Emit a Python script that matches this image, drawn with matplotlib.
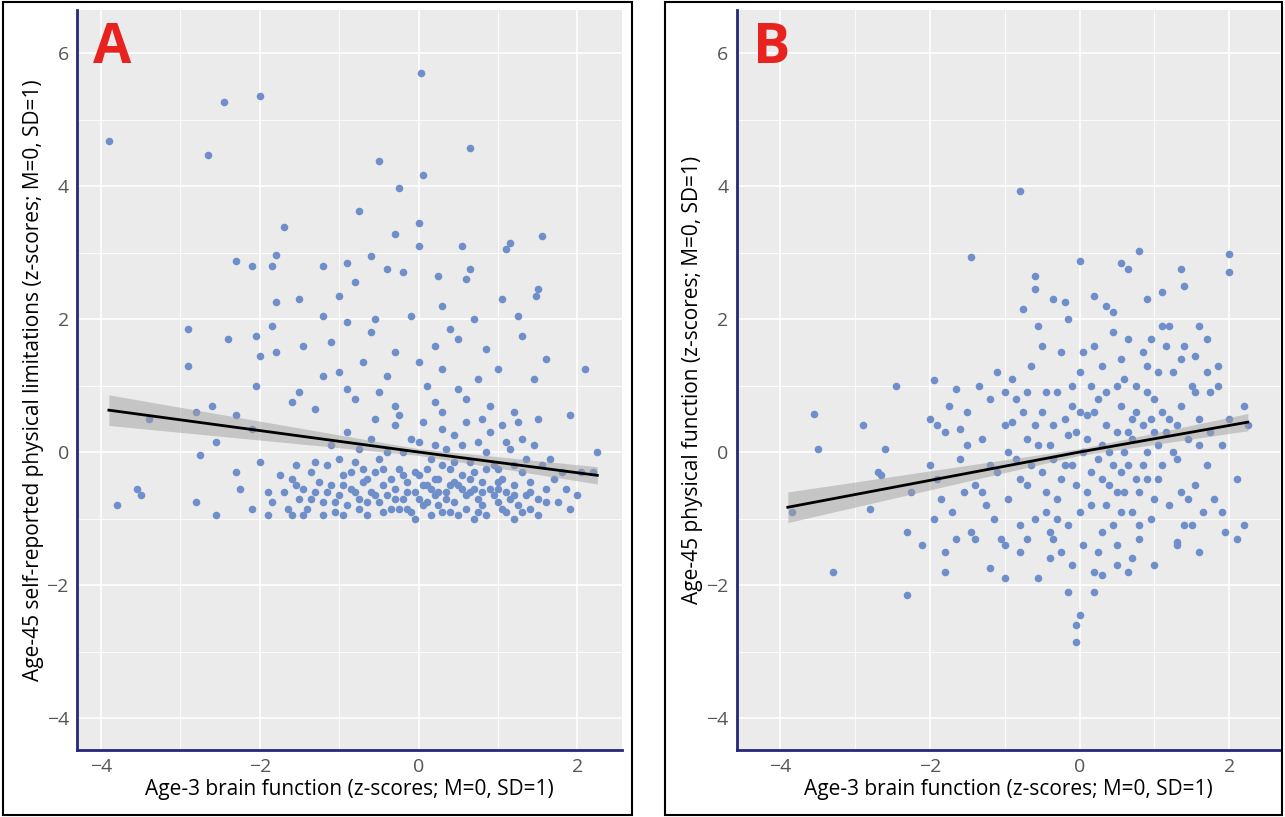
import matplotlib.pyplot as plt
from matplotlib.patches import Rectangle
import numpy as np

# panel A: age-3 brain function vs age-45 self-reported physical limitations
a_pts = [
    (-3.9, 4.67), (-2.45, 5.26), (-2.0, 5.35), (-2.65, 4.47), (0.03, 5.7), (0.65, 4.57),
    (-0.5, 4.37), (0.05, 4.17), (-0.25, 3.97), (-0.75, 3.62), (-1.7, 3.38), (0.0, 3.45),
    (1.55, 3.25), (-0.3, 3.28), (0.55, 3.1), (1.15, 3.15), (1.1, 3.05), (0.0, 3.1),
    (-2.3, 2.87), (-2.1, 2.8), (-1.8, 2.97), (-1.85, 2.8), (-0.6, 2.95), (-0.9, 2.85),
    (-1.2, 2.8), (-0.8, 2.55), (-0.4, 2.75), (-0.2, 2.7), (0.25, 2.65), (0.6, 2.6),
    (0.65, 2.75), (1.5, 2.45), (1.48, 2.35), (-1.0, 2.35), (-1.5, 2.3), (-1.8, 2.25),
    (-2.9, 1.85), (-1.85, 1.9), (-1.2, 2.05), (-0.9, 1.95), (-0.55, 2.0), (-0.1, 2.05),
    (0.3, 2.2), (0.7, 2.0), (1.05, 2.3), (0.4, 1.85), (1.25, 2.05), (-2.4, 1.7),
    (-2.05, 1.75), (-1.8, 1.5), (-2.9, 1.3), (-2.0, 1.45), (-1.45, 1.6), (-1.1, 1.65),
    (-0.6, 1.8), (-0.3, 1.5), (0.2, 1.6), (0.5, 1.7), (0.85, 1.55), (1.3, 1.75),
    (1.6, 1.4), (-1.0, 1.2), (-0.7, 1.35), (-0.4, 1.15), (0.0, 1.35), (0.3, 1.25),
    (0.75, 1.1), (1.0, 1.25), (-1.2, 1.15), (1.45, 1.1), (2.1, 1.25), (-2.05, 1.0),
    (-1.5, 0.9), (-0.9, 0.95), (-0.5, 0.9), (0.1, 1.0), (0.5, 0.95), (-2.6, 0.7),
    (-2.3, 0.55), (-2.1, 0.35), (-2.8, 0.6), (-3.4, 0.5), (-1.6, 0.75), (-1.3, 0.65),
    (-0.8, 0.8), (-0.3, 0.7), (0.2, 0.75), (0.6, 0.8), (0.9, 0.7), (1.2, 0.6),
    (1.5, 0.5), (1.9, 0.55), (-2.75, -0.05), (-2.55, 0.15), (-2.3, -0.3), (-2.0, -0.15),
    (-3.8, -0.8), (-3.55, -0.55), (-3.5, -0.65), (-2.8, -0.75), (-2.55, -0.95), (-2.1, -0.85),
    (-1.9, -0.95), (-2.25, -0.55), (2.25, 0.0), (2.2, -0.3), (2.05, -0.3), (2.0, -0.65),
    (1.85, -0.55), (1.2, -1.0),
    (-1.7, -0.6), (-1.6, -0.4), (-1.5, -0.7), (-1.45, -0.55), (-1.4, -0.85), (-1.35, -0.3),
    (-1.3, -0.6), (-1.25, -0.45), (-1.2, -0.75), (-1.15, -0.2), (-1.1, -0.5), (-1.05, -0.9),
    (-1.0, -0.65), (-0.95, -0.35), (-0.9, -0.8), (-0.85, -0.55), (-0.8, -0.15), (-0.75, -0.7),
    (-0.7, -0.45), (-0.65, -0.95), (-0.6, -0.6), (-0.55, -0.3), (-0.5, -0.75), (-0.45, -0.5),
    (-0.4, 0.0), (-0.35, -0.85), (-0.3, -0.55), (-0.25, -0.25), (-0.2, -0.7), (-0.15, -0.45),
    (-0.1, -0.9), (-0.05, -0.6), (0.0, -0.35), (0.05, -0.8), (0.1, -0.5), (0.15, -0.1),
    (0.2, -0.65), (0.25, -0.4), (0.3, -0.9), (0.35, -0.6), (0.4, -0.25), (0.45, -0.75),
    (0.5, -0.5), (0.55, 0.1), (0.6, -0.85), (0.65, -0.6), (0.7, -0.3), (0.75, -0.7),
    (0.8, -0.45), (0.85, -0.95), (0.9, -0.55), (0.95, -0.2), (1.0, -0.75), (1.05, -0.4),
    (1.1, -0.6), (1.15, 0.05), (1.2, -0.5), (1.25, -0.8), (1.3, -0.3), (1.35, -0.65),
    (1.4, -0.45), (1.5, -0.7), (1.55, -0.2), (1.6, -0.55), (1.7, -0.4), (1.75, -0.75),
    (-1.65, -0.85), (-1.55, -0.2), (-1.2, -0.95), (-1.0, -0.1), (-0.9, 0.3), (-0.7, -0.25),
    (-0.6, 0.2), (-0.5, -0.1), (-0.45, -0.9), (-0.3, 0.4), (-0.2, -0.35), (-0.1, 0.2),
    (0.0, -0.7), (0.05, 0.45), (0.1, -0.25), (0.2, 0.1), (0.25, -0.8), (0.3, 0.35),
    (0.4, -0.5), (0.45, 0.25), (0.5, -0.95), (0.55, -0.35), (0.6, 0.45), (0.7, -0.55),
    (0.75, 0.15), (0.8, -0.8), (0.85, -0.25), (0.9, 0.3), (1.0, -0.45), (1.05, 0.4),
    (1.1, -0.9), (1.2, -0.2), (1.3, 0.2), (1.4, -0.85), (1.45, 0.1), (1.65, -0.1),
    (1.8, -0.3), (-0.8, -0.6), (-0.4, -0.65), (0.15, -0.55), (0.35, -0.7), (0.65, -0.4),
    (0.95, -0.65), (1.15, -0.7), (-0.15, -0.85), (-0.65, -0.4), (-1.3, -0.15), (-1.75, -0.35),
    (-1.9, -0.6), (-1.85, -0.75), (-1.6, -0.95), (-0.25, 0.55), (0.3, 0.6), (0.8, 0.5),
    (-0.55, 0.5), (1.25, 0.45), (0.0, 0.15), (0.15, -0.95), (0.45, -0.15), (0.7, -1.0),
    (-0.05, -1.0), (-0.95, -0.95), (1.5, -0.95), (1.9, -0.85),
    (-1.55, -0.5), (-1.35, -0.7), (-1.15, -0.6), (-0.95, -0.5), (-0.75, -0.85), (-0.55, -0.65),
    (-0.35, -0.4), (-0.15, -0.6), (0.05, -0.5), (0.25, -0.6), (0.45, -0.45), (0.6, -0.65),
    (0.8, -0.6), (1.0, -0.55), (1.2, -0.65), (1.4, -0.6), (1.6, -0.75), (-1.45, -0.95),
    (-1.05, -0.75), (-0.65, -0.75), (-0.25, -0.85), (0.1, -0.75), (0.4, -0.9), (0.75, -0.9),
    (1.05, -0.85), (1.3, -0.9), (-0.85, -0.3), (-0.45, -0.25), (-0.05, -0.3), (0.3, -0.2),
    (0.65, -0.15), (1.0, -0.25), (1.35, -0.1), (-0.75, 0.05), (-0.2, 0.0), (0.35, 0.05),
    (0.85, 0.0), (1.1, 0.15), (-1.1, 0.1), (0.55, -0.55), (0.2, -0.4), (-0.3, -0.7),
]

# panel B: age-3 brain function vs age-45 physical function
b_pts = [
    (-0.8, 3.92), (-1.45, 2.93), (0.8, 3.02), (2.0, 2.98), (2.0, 2.7), (0.55, 2.85),
    (0.0, 2.87), (0.65, 2.75), (1.35, 2.75), (-0.6, 2.65), (-0.6, 2.45), (-0.35, 2.3),
    (-0.2, 2.25), (0.2, 2.35), (0.35, 2.2), (0.9, 2.3), (1.1, 2.4), (1.4, 2.5),
    (-0.75, 2.15), (1.6, 1.9), (1.7, 1.7), (1.55, 1.45), (1.85, 1.3), (-3.55, 0.57),
    (-3.5, 0.05), (-3.85, -0.9), (-3.3, -1.8), (-2.3, -2.15), (-2.8, -0.85), (-2.45, 1.0),
    (-2.9, 0.4), (-2.65, -0.35), (-2.6, 0.05), (-1.95, 1.08), (-1.65, 0.95), (-2.0, 0.5),
    (-1.8, -1.5), (-1.8, -1.8), (-1.2, -1.75), (-0.55, -1.9), (-0.25, -1.5), (-0.15, -2.1),
    (0.0, -2.45), (-0.05, -2.6), (-0.05, -2.85), (0.2, -2.1), (0.3, -1.85), (0.65, -1.8),
    (1.0, -1.7), (1.3, -1.35), (1.6, -1.5), (1.95, -1.2), (2.1, -1.3), (2.2, -1.1),
    (2.25, 0.4), (2.1, -0.4), (1.9, -0.9), (2.2, 0.7), (-2.7, -0.3), (-2.3, -1.2),
    (-2.1, -1.4), (-2.25, -0.6), (-1.4, -1.3), (-1.0, -1.4), (-0.8, -1.1), (-0.4, -1.2),
    (0.5, -1.4), (0.8, -1.3), (1.5, -1.1),
    (-1.9, -0.4), (-1.8, 0.3), (-1.7, -0.9), (-1.6, -0.1), (-1.5, 0.6), (-1.45, -1.2),
    (-1.4, -0.5), (-1.3, 0.2), (-1.25, -0.8), (-1.2, 0.8), (-1.1, -0.3), (-1.05, -1.3),
    (-1.0, 0.4), (-0.95, -0.7), (-0.9, 1.1), (-0.85, -0.1), (-0.8, -1.5), (-0.75, 0.6),
    (-0.7, -0.5), (-0.65, 1.3), (-0.6, -1.0), (-0.55, 0.1), (-0.5, -0.3), (-0.45, 0.9),
    (-0.4, -1.6), (-0.35, 0.4), (-0.3, -0.7), (-0.25, 1.5), (-0.2, -0.2), (-0.15, -1.1),
    (-0.1, 0.7), (-0.05, -0.5), (0.0, 1.2), (0.05, -1.4), (0.1, 0.2), (0.15, -0.8),
    (0.2, 1.6), (0.25, -0.1), (0.3, -1.2), (0.35, 0.9), (0.4, -0.5), (0.45, 1.8),
    (0.5, 0.3), (0.55, -0.9), (0.6, 1.1), (0.65, -0.2), (0.7, -1.6), (0.75, 0.6),
    (0.8, -0.6), (0.85, 1.5), (0.9, 0.0), (0.95, -1.0), (1.0, 0.8), (1.05, -0.4),
    (1.1, 1.9), (1.15, 0.3), (1.2, -0.8), (1.25, 1.2), (1.3, -0.1), (1.35, 0.7),
    (1.4, -1.1), (1.45, 0.2), (1.5, 1.0), (1.55, -0.5), (1.6, 0.5), (1.7, -0.2),
    (1.75, 0.9), (1.8, -0.7), (1.9, 0.1), (2.0, 0.5),
    (-1.95, -1.0), (-1.75, 0.7), (-1.55, -0.6), (-1.35, 1.0), (-1.15, -1.0), (-0.95, 0.0),
    (-0.85, 0.8), (-0.7, -1.3), (-0.6, 0.4), (-0.5, 1.6), (-0.45, -0.9), (-0.3, 0.9),
    (-0.25, -0.4), (-0.1, -1.7), (-0.05, 0.3), (0.05, 1.5), (0.1, -0.6), (0.2, 0.6),
    (0.25, -1.5), (0.3, 1.3), (0.4, 0.0), (0.45, -1.1), (0.5, 1.0), (0.55, -0.3),
    (0.65, 1.7), (0.7, 0.2), (0.8, -1.1), (0.85, 0.4), (0.9, 1.3), (1.0, -0.7),
    (1.05, 0.1), (1.15, 1.6), (1.2, 0.5), (1.3, -1.4), (1.35, 1.4), (1.45, -0.7),
    (1.55, 0.9), (1.65, -0.9), (1.75, 0.3), (1.85, 1.0), (-0.2, 0.5), (0.0, -0.9),
    (0.35, 0.4), (0.6, -0.6), (0.75, 1.0), (0.95, 0.5), (1.1, -0.2), (-0.4, 0.1),
    (-0.8, -0.4), (-1.2, -0.2), (-0.65, -0.2), (0.15, 1.0), (0.55, 0.7), (0.3, -0.4),
    (-0.1, -0.2), (0.7, 0.5), (0.9, -0.4), (1.25, 0.0), (-0.35, -1.3), (0.2, -1.8),
    (0.5, -1.7), (-1.0, -1.9), (-1.5, 0.1), (-2.0, -0.2), (-1.9, 0.4), (-1.65, -1.3),
    (-1.1, 1.2), (-0.55, 1.9), (-0.15, 2.0), (0.45, 2.1), (0.95, 1.7), (1.4, 1.6),
    (1.2, 1.9),
    (-0.9, 0.45), (-0.7, 0.9), (-0.5, 0.6), (-0.3, -1.0), (-0.1, 1.0), (0.1, 0.55),
    (0.3, 0.1), (0.5, -0.6), (0.7, -0.9), (0.9, 0.9), (1.1, 0.6), (1.3, 0.4),
    (0.05, 0.0), (0.25, 0.8), (0.45, -0.2), (0.65, 0.3), (0.85, -0.2), (1.05, 1.2),
    (-0.35, -0.1), (-0.15, 0.25), (0.15, -0.3), (0.35, -0.8), (0.55, 1.4), (0.75, -0.4),
    (-1.3, -0.6), (-1.0, 0.9), (-0.7, 0.2), (-0.45, -0.6), (0.0, 0.6), (0.6, 0.0),
    (1.0, 0.3), (1.35, -0.6), (1.6, 0.1), (1.7, 1.2), (-1.6, 0.35), (-1.85, -0.7),
]

# fitted lines and CI half-widths at x = -3.9, 0, 2.25
fit_x = [-3.9, 0.0, 2.25]
a_fit_y = [0.63, 0.0, -0.35]
b_fit_y = [-0.83, 0.0, 0.45]
ci_half = [0.23, 0.05, 0.13]

x_ticks = [-4, -2, 0, 2]
y_ticks = [-4, -2, 0, 2, 4, 6]
x_label = "Age-3 brain function (z-scores; M=0, SD=1)"
a_ylabel = "Age-45 self-reported physical limitations (z-scores; M=0, SD=1)"
b_ylabel = "Age-45 physical function (z-scores; M=0, SD=1)"

plt.rcParams["font.family"] = ["Open Sans", "DejaVu Sans"]
fig = plt.figure(figsize=(12.85, 8.17), dpi=100)

for rect in [(0.002, 0.002, 0.490, 0.995), (0.5175, 0.002, 0.480, 0.995)]:
    fig.patches.append(Rectangle(rect[:2], rect[2], rect[3], transform=fig.transFigure,
                                 fill=False, edgecolor="black", linewidth=1.5))


def panel(pos, xlim, pts, fit_y, ylabel, letter):
    ax = fig.add_axes(pos)
    ax.set_facecolor("#EBEBEB")
    ax.set_xlim(*xlim)
    ax.set_ylim(-4.48, 6.65)
    ax.set_xticks(x_ticks)
    ax.set_yticks(y_ticks)
    ax.set_xticks([-3, -1, 1], minor=True)
    ax.set_yticks([-3, -1, 1, 3, 5], minor=True)
    ax.grid(True, which="major", color="white", linewidth=1.2)
    ax.grid(True, which="minor", color="white", linewidth=0.6)
    ax.set_axisbelow(True)
    for s in ["top", "right"]:
        ax.spines[s].set_visible(False)
    for s in ["left", "bottom"]:
        ax.spines[s].set_color("#26267A")
        ax.spines[s].set_linewidth(2)
    ax.tick_params(which="both", length=0, pad=6, labelsize=14, labelcolor="#555555")
    xs, ys = zip(*pts)
    ax.scatter(xs, ys, s=30, color="#6F8FCB", linewidths=0, zorder=2)
    lo = np.array(fit_y) - np.array(ci_half)
    hi = np.array(fit_y) + np.array(ci_half)
    ax.fill_between(fit_x, lo, hi, color="#A0A0A0", alpha=0.5, linewidth=0, zorder=3)
    ax.plot(fit_x, fit_y, color="black", linewidth=2, zorder=4)
    ax.set_xlabel(x_label, fontsize=15, labelpad=2)
    ax.set_ylabel(ylabel, fontsize=15, labelpad=2)
    ax.text(0.03, 0.985, letter, transform=ax.transAxes, color="#E8231F", fontsize=40,
            fontweight="bold", va="top", ha="left")
    return ax


panel([0.060, 0.082, 0.424, 0.906], (-4.3, 2.56), a_pts, a_fit_y, a_ylabel, "A")
panel([0.5735, 0.082, 0.4226, 0.906], (-4.58, 2.68), b_pts, b_fit_y, b_ylabel, "B")

fig.savefig("out.png", dpi=100)
